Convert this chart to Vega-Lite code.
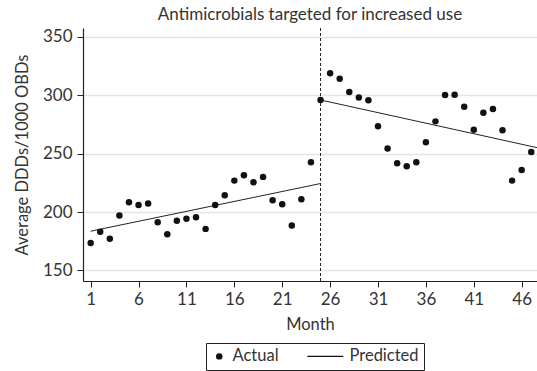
{
  "$schema": "https://vega.github.io/schema/vega-lite/v6.json",
  "width": 454,
  "height": 253,
  "autosize": "none",
  "padding": {"left": 83, "top": 28, "right": 0, "bottom": 90},
  "background": "white",
  "title": {
    "text": "Antimicrobials targeted for increased use",
    "fontSize": 17,
    "fontWeight": "normal",
    "font": "Lato",
    "color": "#333333",
    "anchor": "middle",
    "offset": 4
  },
  "datasets": {
    "actual": [
      {"month": 1, "ddd": 173.6}, {"month": 2, "ddd": 183.1}, {"month": 3, "ddd": 177.1},
      {"month": 4, "ddd": 197.0}, {"month": 5, "ddd": 208.4}, {"month": 6, "ddd": 206.1},
      {"month": 7, "ddd": 207.3}, {"month": 8, "ddd": 191.3}, {"month": 9, "ddd": 181.1},
      {"month": 10, "ddd": 192.5}, {"month": 11, "ddd": 194.2}, {"month": 12, "ddd": 195.6},
      {"month": 13, "ddd": 185.6}, {"month": 14, "ddd": 206.1}, {"month": 15, "ddd": 214.4},
      {"month": 16, "ddd": 226.9}, {"month": 17, "ddd": 231.5}, {"month": 18, "ddd": 225.5},
      {"month": 19, "ddd": 230.1}, {"month": 20, "ddd": 210.1}, {"month": 21, "ddd": 206.7},
      {"month": 22, "ddd": 188.5}, {"month": 23, "ddd": 211.0}, {"month": 24, "ddd": 242.6},
      {"month": 25, "ddd": 295.9}, {"month": 26, "ddd": 318.7}, {"month": 27, "ddd": 314.1},
      {"month": 28, "ddd": 302.7}, {"month": 29, "ddd": 298.1}, {"month": 30, "ddd": 295.6},
      {"month": 31, "ddd": 273.4}, {"month": 32, "ddd": 254.3}, {"month": 33, "ddd": 241.7},
      {"month": 34, "ddd": 239.2}, {"month": 35, "ddd": 242.6}, {"month": 36, "ddd": 259.7},
      {"month": 37, "ddd": 277.6}, {"month": 38, "ddd": 300.1}, {"month": 39, "ddd": 300.4},
      {"month": 40, "ddd": 290.2}, {"month": 41, "ddd": 270.5}, {"month": 42, "ddd": 285.0},
      {"month": 43, "ddd": 288.2}, {"month": 44, "ddd": 270.0}, {"month": 45, "ddd": 226.9},
      {"month": 46, "ddd": 236.0}, {"month": 47, "ddd": 251.4}
    ],
    "predicted": [
      {"month": 1, "ddd": 183.6, "segment": "pre"},
      {"month": 25, "ddd": 224.4, "segment": "pre"},
      {"month": 25, "ddd": 295.9, "segment": "post"},
      {"month": 48, "ddd": 254.4, "segment": "post"}
    ],
    "intervention": [{"month": 25}]
  },
  "config": {
    "font": "Lato",
    "view": {"stroke": null},
    "axis": {
      "domainColor": "#222222",
      "domainWidth": 1.2,
      "tickColor": "#222222",
      "tickWidth": 1,
      "tickSize": 6,
      "labelColor": "#333333",
      "titleColor": "#333333",
      "labelFontSize": 17,
      "titleFontSize": 16.5,
      "titleFontWeight": "normal",
      "gridColor": "#e4e4e4",
      "gridWidth": 1.5
    }
  },
  "layer": [
    {
      "data": {"name": "intervention"},
      "mark": {"type": "rule", "color": "#222222", "strokeWidth": 1, "strokeDash": [3, 2]},
      "encoding": {
        "x": {"field": "month", "type": "quantitative", "scale": {"domain": [0.2, 47.6], "nice": false, "zero": false}}
      }
    },
    {
      "data": {"name": "predicted"},
      "mark": {"type": "line", "color": "#222222", "strokeWidth": 1, "clip": true},
      "encoding": {
        "x": {"field": "month", "type": "quantitative"},
        "y": {"field": "ddd", "type": "quantitative"},
        "detail": {"field": "segment"}
      }
    },
    {
      "data": {"name": "actual"},
      "mark": {"type": "point", "filled": true, "color": "#111111", "size": 42, "opacity": 1},
      "encoding": {
        "x": {
          "field": "month", "type": "quantitative",
          "scale": {"domain": [0.2, 47.6], "nice": false, "zero": false},
          "axis": {
            "title": "Month",
            "values": [1, 6, 11, 16, 21, 26, 31, 36, 41, 46],
            "grid": false,
            "labelPadding": 4,
            "titlePadding": 9,
            "labelFlush": false
          }
        },
        "y": {
          "field": "ddd", "type": "quantitative",
          "scale": {"domain": [141, 357.5], "nice": false, "zero": false},
          "axis": {
            "title": "Average DDDs/1000 OBDs",
            "values": [150, 200, 250, 300, 350],
            "grid": true,
            "labelPadding": 5,
            "titlePadding": 12
          }
        },
        "shape": {
          "datum": "Actual",
          "scale": {"domain": ["Actual", "Predicted"], "range": ["circle", "M-8.95,-0.17L2.16,-0.17L2.16,0.17L-8.95,0.17Z"]},
          "legend": {
            "title": null,
            "orient": "none",
            "legendX": 123,
            "legendY": 315,
            "direction": "horizontal",
            "strokeColor": "#222222",
            "fillColor": "white",
            "padding": 5,
            "labelFontSize": 16.5,
            "labelColor": "#333333",
            "labelOffset": 5,
            "columnPadding": 25,
            "symbolSize": 42,
            "symbolFillColor": "#111111"
          }
        }
      }
    }
  ]
}
